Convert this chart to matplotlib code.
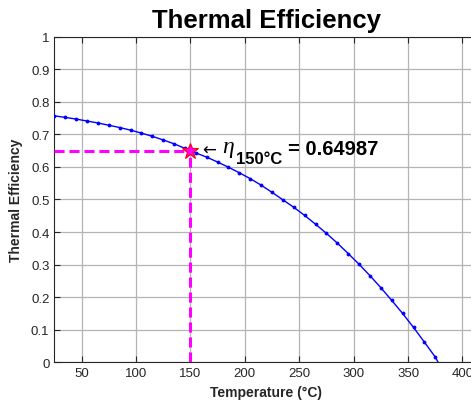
import matplotlib
matplotlib.use("Agg")
import matplotlib.pyplot as plt

# data (markers every 10 degC)
temps = [25, 35, 45, 55, 65, 75, 85, 95, 105, 115, 125, 135, 145, 155, 165, 175,
         185, 195, 205, 215, 225, 235, 245, 255, 265, 275, 285, 295, 305, 315,
         325, 335, 345, 355, 365, 375]
eff = [0.757, 0.752, 0.747, 0.741, 0.735, 0.728, 0.721, 0.713, 0.704, 0.694,
       0.683, 0.671, 0.657, 0.643, 0.630, 0.615, 0.599, 0.582, 0.564, 0.544,
       0.522, 0.499, 0.476, 0.451, 0.424, 0.396, 0.366, 0.334, 0.301, 0.266,
       0.229, 0.190, 0.150, 0.107, 0.062, 0.016]
t_zero = 377.6          # curve reaches zero here (no marker)
t_pt = 150
eff_pt = 0.64987

xticks = [50, 100, 150, 200, 250, 300, 350, 400]
yticks = [0, 0.1, 0.2, 0.3, 0.4, 0.5, 0.6, 0.7, 0.8, 0.9, 1]
ytick_labels = ["0", "0.1", "0.2", "0.3", "0.4", "0.5", "0.6", "0.7", "0.8", "0.9", "1"]

plt.rcParams["font.family"] = ["Liberation Sans", "DejaVu Sans"]

fig = plt.figure(figsize=(4.71, 4.06), dpi=100)
ax = fig.add_axes([0.1153, 0.1052, 0.899, 0.802])

ax.plot(temps + [t_zero], eff + [0], color="b", lw=1, marker=".", ms=3.5,
        markevery=list(range(len(temps))), zorder=3)

dash = (0, (3.3, 1.6))
ax.plot([25, t_pt], [eff_pt, eff_pt], linestyle=dash, color="magenta", lw=2.2, zorder=4)
ax.plot([t_pt, t_pt], [0, eff_pt], linestyle=dash, color="magenta", lw=2.2, zorder=4)
ax.plot(t_pt, eff_pt, marker="*", ms=12, mfc="magenta", mec="red", mew=0.8, zorder=5)

# label: arrow, eta, subscript, value
lbl = dict(xy=(t_pt, eff_pt), textcoords="offset points", ha="left", zorder=6, color="black")
ax.annotate("\u2190", xytext=(8.8, 0.7), va="center", fontsize=12,
            family=["DejaVu Sans"], **lbl)
ax.annotate("\u03b7", xytext=(22.7, -0.9), va="baseline", fontsize=17,
            family=["Liberation Serif"], style="italic", **lbl)
ax.annotate("150°C", xytext=(32.8, -8.9), va="baseline", fontsize=12,
            fontweight="bold", **lbl)
ax.annotate("= 0.64987", xytext=(70.2, -2.4), va="baseline", fontsize=14.5,
            fontweight="bold", **lbl)

ax.set_xlim(25, 414)
ax.set_ylim(0, 1)
ax.set_xticks(xticks)
ax.set_yticks(yticks)
ax.set_yticklabels(ytick_labels)
ax.grid(True, color="#b4b4b4", lw=0.9)
ax.set_axisbelow(True)

ax.tick_params(direction="in", top=True, right=True, length=4, width=0.8,
               colors="#262626", labelsize=9.5, labelcolor="#262626")
for s in ax.spines.values():
    s.set_color("#262626")
    s.set_linewidth(0.8)

ax.set_xlabel("Temperature (°C)", fontsize=10, fontweight="bold", color="#262626", labelpad=4)
ax.set_ylabel("Thermal Efficiency", fontsize=10, fontweight="bold", color="#262626", labelpad=6)
ax.set_title("Thermal Efficiency", fontsize=18.5, fontweight="bold", pad=7)

fig.savefig("out.png", dpi=100)
